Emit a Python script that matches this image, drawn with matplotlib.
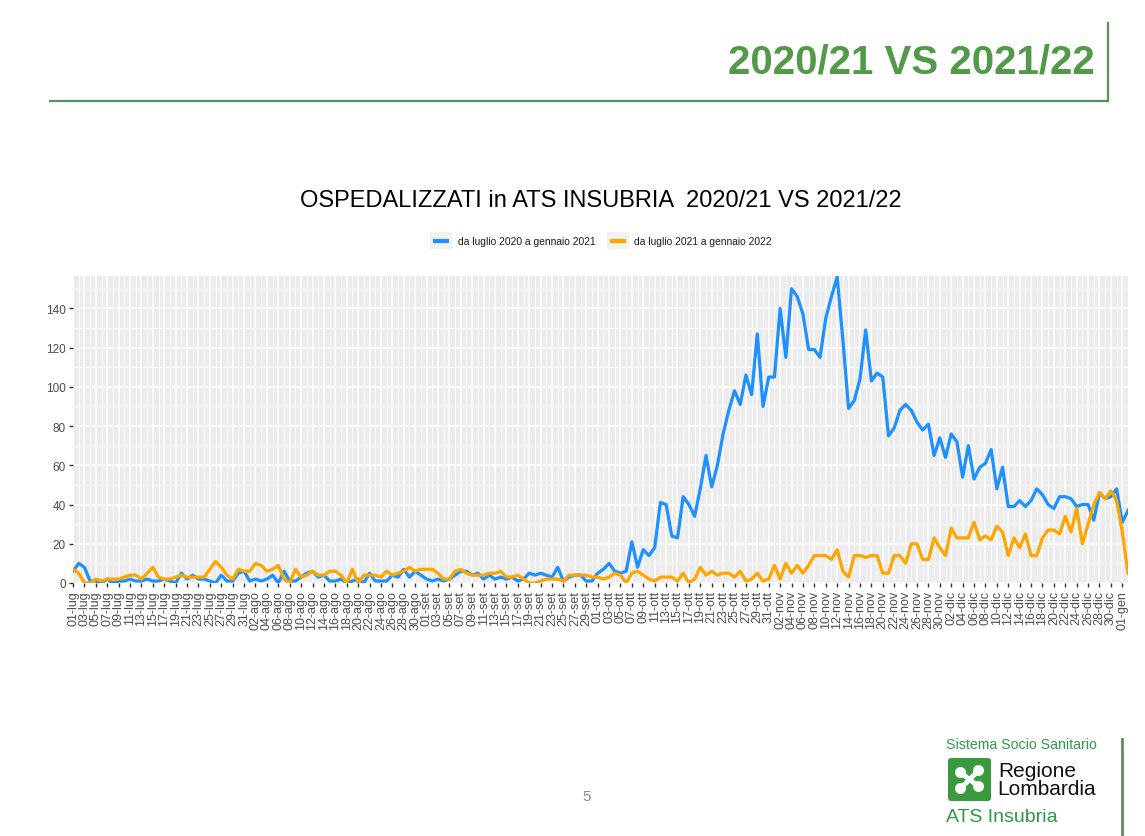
import matplotlib
matplotlib.use("Agg")
import matplotlib.pyplot as plt
from matplotlib.patches import FancyBboxPatch, Circle, Rectangle
import numpy as np
import pandas as pd

plt.rcParams['font.family'] = ['Liberation Sans', 'DejaVu Sans']

# daily hospitalised, 01 July -> 02 January
mesi = ['gen', 'feb', 'mar', 'apr', 'mag', 'giu', 'lug', 'ago', 'set', 'ott', 'nov', 'dic']
giorni = pd.date_range('2020-07-01', '2021-01-02', freq='D')
serie = ['da luglio 2020 a gennaio 2021', 'da luglio 2021 a gennaio 2022']
colori = ['#1E90FF', '#FFA500']

blu_lug = [6, 10, 8, 1, 1, 0, 2, 0, 1, 1, 2, 1, 1, 2, 1, 1, 2, 1, 0, 5, 2, 4, 2, 2, 1, 0, 4, 1, 1, 5, 6]
blu_ago = [1, 2, 1, 2, 4, 0, 6, 1, 1, 3, 5, 6, 3, 4, 1, 1, 2, 0, 1, 2, 0, 5, 1, 1, 1, 4, 3, 7, 3, 6, 4]
blu_set = [2, 1, 2, 1, 2, 4, 6, 6, 4, 5, 2, 4, 2, 3, 2, 3, 1, 2, 5, 4, 5, 4, 3, 8, 1, 3, 4, 4, 1, 1]
blu_ott = [5, 7, 10, 6, 5, 6, 21, 8, 17, 14, 18, 41, 40, 24, 23, 44, 40, 34, 48, 65, 49, 60, 76, 88,
           98, 91, 106, 96, 127, 90, 105]
blu_nov = [105, 140, 115, 150, 146, 137, 119, 119, 115, 135, 146, 156, 124, 89, 93, 104, 129, 103, 107, 105,
           75, 79, 88, 91, 88, 82, 78, 81, 65, 74]
blu_dic = [64, 76, 72, 54, 70, 53, 59, 61, 68, 48, 59, 39, 39, 42, 39, 42, 48, 45, 40, 38, 44, 44, 43, 39,
           40, 40, 32, 46, 43, 44, 48]
blu_gen = [31, 37]

ara_lug = [7, 5, 0, 0, 2, 1, 2, 2, 2, 3, 4, 4, 2, 5, 8, 3, 2, 2, 3, 4, 3, 3, 3, 3, 7, 11, 8, 4, 2, 7, 6]
ara_ago = [6, 10, 9, 6, 7, 9, 2, 0, 7, 3, 4, 6, 4, 4, 6, 6, 4, 0, 7, 0, 4, 4, 4, 3, 6, 4, 5, 6, 8, 6, 7]
ara_set = [7, 7, 5, 2, 2, 6, 7, 5, 4, 4, 4, 5, 5, 6, 3, 3, 4, 2, 0, 0, 1, 2, 2, 2, 1, 4, 4, 4, 4, 3]
ara_ott = [3, 2, 3, 5, 4, 0, 5, 6, 4, 2, 1, 3, 3, 3, 1, 5, 0, 2, 8, 4, 6, 4, 5, 5, 3, 6, 1, 2, 5, 1, 2]
ara_nov = [9, 2, 10, 5, 9, 5, 9, 14, 14, 14, 12, 17, 6, 3, 14, 14, 13, 14, 14, 5, 5, 14, 14, 10, 20, 20,
           12, 12, 23, 18]
ara_dic = [14, 28, 23, 23, 23, 31, 22, 24, 22, 29, 26, 14, 23, 18, 25, 14, 14, 23, 27, 27, 25, 34, 26, 38,
           20, 30, 40, 46, 43, 47, 42]
ara_gen = [26, 5]

blu = blu_lug + blu_ago + blu_set + blu_ott + blu_nov + blu_dic + blu_gen
ara = ara_lug + ara_ago + ara_set + ara_ott + ara_nov + ara_dic + ara_gen
etichette = [f"{d.day:02d}-{mesi[d.month - 1]}" for d in giorni]

W, H = 1145, 837
fig = plt.figure(figsize=(W / 100, H / 100), dpi=100)

# chart panel
ax = fig.add_axes([73 / W, 1 - 584 / H, 1055 / W, 307 / H])
x = np.arange(len(giorni))
ax.set_facecolor('#EBEBEB')
ax.plot(x, blu, color=colori[0], lw=2.3, solid_joinstyle='round')
ax.plot(x, ara, color=colori[1], lw=2.3, solid_joinstyle='round')
ax.set_xlim(0, len(giorni) - 1)
ax.set_ylim(0, 156.5)
ax.set_yticks(np.arange(0, 141, 20))
ax.set_yticks(np.arange(10, 151, 20), minor=True)
ax.set_xticks(x[::2])
ax.set_xticklabels(etichette[::2], rotation=90)
ax.set_xticks(x[1::2], minor=True)
ax.grid(which='major', color='white', lw=1.1)
ax.grid(which='minor', color='white', lw=0.6)
ax.set_axisbelow(True)
for s in ax.spines.values():
    s.set_visible(False)
ax.tick_params(which='major', length=3, width=1, color='#333333', labelsize=9, labelcolor='#4D4D4D', pad=2)
ax.tick_params(axis='y', labelsize=8.5)
ax.tick_params(which='minor', length=0)

ax.set_title('OSPEDALIZZATI in ATS INSUBRIA  2020/21 VS 2021/22', fontsize=17, pad=0, y=1 + 70 / 307)

# slide decorations in pixel coordinates
ov = fig.add_axes([0, 0, 1, 1], zorder=-1)
ov.set_xlim(0, W)
ov.set_ylim(H, 0)
ov.axis('off')

# legend (ggplot style keys)
for kx, tx, nome, col in zip([430, 607], [458, 634], serie, colori):
    ov.add_patch(Rectangle((kx, 233), 22, 17, fc='#F2F2F2', ec='none'))
    ov.plot([kx + 3, kx + 19], [241.5, 241.5], color=col, lw=3, solid_capstyle='butt')
    ov.text(tx, 242, nome, fontsize=7.4, ha='left', va='center', color='#1A1A1A')

verde = '#529A48'
ov.text(1095, 62, '2020/21 VS 2021/22', color=verde, fontsize=29, fontweight='bold', ha='right', va='center')
ov.plot([50, 1108], [102, 102], color='#5F8F5B', lw=1.6)
ov.plot([1108, 1108], [24, 102], color='#5F8F5B', lw=1.6)

ov.text(587, 797, '5', color='#8C8C8C', fontsize=11, ha='center', va='center')

# logo
ov.plot([1122, 1122], [740, 837], color='#5F8F5B', lw=2)
ov.text(946, 745, 'Sistema Socio Sanitario', color='#2E9A44', fontsize=10.2, ha='left', va='center')
ov.add_patch(FancyBboxPatch((948, 759), 43, 43, boxstyle='round,pad=0,rounding_size=3',
                            fc='#3A9A40', ec='none'))
cx, cy = 969.5, 780.5
for dx, dy in [(-9, -7), (9, -9), (-9, 9), (9, 7)]:
    ov.add_patch(Circle((cx + dx, cy + dy), 5.5, fc='white', ec='none'))
    ov.plot([cx, cx + dx], [cy, cy + dy], color='white', lw=3.5, solid_capstyle='round')
ov.text(998, 772, 'Regione', color='#111111', fontsize=15, ha='left', va='center')
ov.text(997, 790, 'Lombardia', color='#111111', fontsize=15, ha='left', va='center')
ov.text(946, 818, 'ATS Insubria', color='#2E9A44', fontsize=14, ha='left', va='center')

fig.savefig('out.png', dpi=100)
